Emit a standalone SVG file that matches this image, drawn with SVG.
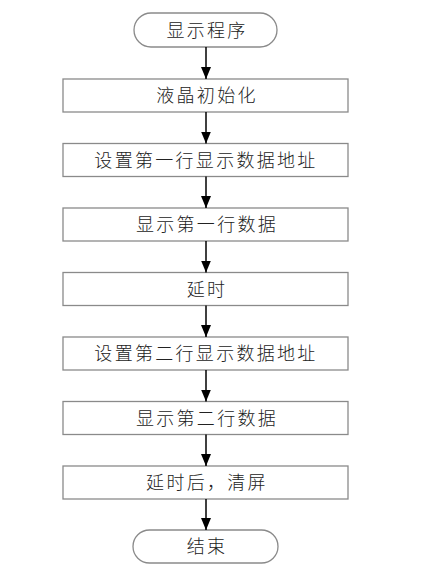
<svg xmlns="http://www.w3.org/2000/svg" width="443" height="570" viewBox="0 0 443 570">
<style>
.b{fill:#fff;stroke:#8a8a8a;stroke-width:1.3}
.t{font-family:"Noto Sans CJK SC","Noto Sans CJK JP",sans-serif;font-size:18px;font-weight:300;fill:#222;text-anchor:middle;letter-spacing:2.3px}
.c line{stroke:#000;stroke-width:1.5;marker-end:url(#a)}
</style>
<defs><marker id="a" markerWidth="12" markerHeight="10" refX="12" refY="5" orient="auto" markerUnits="userSpaceOnUse" viewBox="0 0 12 10"><path d="M0,0L12,5L0,10Z" fill="#000"/></marker></defs>
<rect width="443" height="570" fill="#fff"/>
<g id="start"><rect class="b" x="134" y="13" width="143" height="34" rx="17"/><text class="t" x="207" y="37">显示程序</text></g>
<g id="n1"><rect class="b" x="63" y="79" width="285" height="33"/><text class="t" x="207" y="102">液晶初始化</text></g>
<g id="n2"><rect class="b" x="63" y="143.5" width="285" height="33"/><text class="t" x="206" y="166.5">设置第一行显示数据地址</text></g>
<g id="n3"><rect class="b" x="63" y="208" width="285" height="33"/><text class="t" x="207" y="231">显示第一行数据</text></g>
<g id="n4"><rect class="b" x="63" y="272.5" width="285" height="33"/><text class="t" x="207" y="295.5">延时</text></g>
<g id="n5"><rect class="b" x="63" y="337" width="285" height="33"/><text class="t" x="206" y="360">设置第二行显示数据地址</text></g>
<g id="n6"><rect class="b" x="63" y="401.5" width="285" height="33"/><text class="t" x="207" y="424.5">显示第二行数据</text></g>
<g id="n7"><rect class="b" x="63" y="466" width="285" height="33"/><text class="t" x="207" y="489">延时后，清屏</text></g>
<g id="end"><rect class="b" x="133" y="530" width="145" height="33" rx="16.5"/><text class="t" x="207" y="553">结束</text></g>
<g class="c">
<line x1="206" y1="47" x2="206" y2="79"/>
<line x1="206" y1="112" x2="206" y2="143.5"/>
<line x1="206" y1="176.5" x2="206" y2="208"/>
<line x1="206" y1="241" x2="206" y2="272.5"/>
<line x1="206" y1="305.5" x2="206" y2="337"/>
<line x1="206" y1="370" x2="206" y2="401.5"/>
<line x1="206" y1="434.5" x2="206" y2="466"/>
<line x1="206" y1="499" x2="206" y2="530"/>
</g>
</svg>
